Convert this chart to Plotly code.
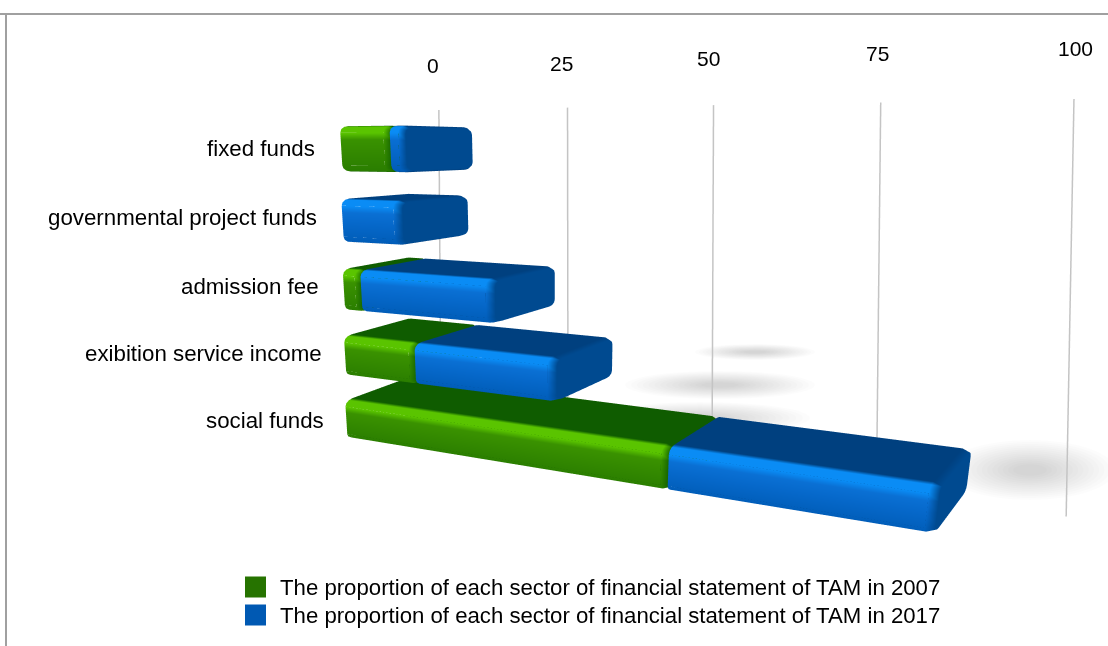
import numpy as np
import plotly.graph_objects as go

categories = ['fixed funds', 'governmental project funds', 'admission fee',
              'exibition service income', 'social funds']
values_2007 = [8, 0, 3, 12, 50]
values_2017 = [2, 9.5, 21, 21.5, 32]
tick_values = [0, 25, 50, 75, 100]
tick_labels = ['0', '25', '50', '75', '100']
series_names = ['The proportion of each sector of financial statement of TAM in 2007',
                'The proportion of each sector of financial statement of TAM in 2017']

FONT = 'Liberation Sans'
DEPTH = 15.4    # bar depth in x-axis units
WALL = 30.9     # where the gridlines stand
BAR_H = 0.62
W, H = 1108, 646

GREEN = dict(front='#3a9200', bright='#5ac400', low='#2a7d00', top='#0f5c00', cap='#0f5c00')
BLUE = dict(front='#0a70d4', bright='#0a8cf5', low='#005cb8', top='#00407f', cap='#004a90')


def hex2rgb(c):
    return np.array([int(c[i:i + 2], 16) for i in (1, 3, 5)], dtype=float)


def section(zc):
    # rounded rectangle in (y, z), walking round from the front bottom corner
    r_y, r_z = 1.5, 0.09
    y0, y1 = 0, DEPTH
    z0, z1 = zc - BAR_H / 2, zc + BAR_H / 2
    pts = []
    corners = [(y0 + r_y, z0 + r_z, 180), (y1 - r_y, z0 + r_z, 270),
               (y1 - r_y, z1 - r_z, 0), (y0 + r_y, z1 - r_z, 90)]
    for cy, cz, a0 in corners:
        for a in np.radians(np.linspace(a0, a0 + 90, 4)):
            pts.append((cy + r_y * np.cos(a), cz + r_z * np.sin(a)))
    # extra rows on the front face so the bright band shows
    for t in (0.84, 0.7, 0.45):
        pts.append((y0, z0 + BAR_H * t))
    return pts


def shade(pal, y, z, zc):
    t = (z - (zc - BAR_H / 2)) / BAR_H
    if y <= 0.8:
        if t < 0.7:
            return hex2rgb(pal['low']) + (hex2rgb(pal['front']) - hex2rgb(pal['low'])) * t / 0.7
        if t < 0.84:
            return hex2rgb(pal['front']) + (hex2rgb(pal['bright']) - hex2rgb(pal['front'])) * (t - 0.7) / 0.14
        return hex2rgb(pal['bright'])
    return hex2rgb(pal['top'])


def bar_mesh(x0, x1, zc, pal, name):
    sec = section(zc)
    n = len(sec)
    bevel = min(1.0, (x1 - x0) / 3)
    X, Y, Z, col, I, J, K = [], [], [], [], [], [], []
    for rx in [x0, x1 - bevel]:
        for y, z in sec:
            X.append(rx); Y.append(y); Z.append(z)
            col.append(shade(pal, y, z, zc))
    for a in range(n):
        b = (a + 1) % n
        I += [a, a]; J += [b, b + n]; K += [b + n, a + n]
    # bevel ring and flat end cap
    base = len(X)
    cap = hex2rgb(pal['cap'])
    for y, z in sec:
        X.append(x1 - bevel); Y.append(y); Z.append(z); col.append(shade(pal, y, z, zc))
    for y, z in sec:
        X.append(x1); Y.append(y + (DEPTH / 2 - y) * 0.08); Z.append(z + (zc - z) * 0.08); col.append(cap)
    for a in range(n):
        b = (a + 1) % n
        I += [base + a, base + a]; J += [base + b, base + b + n]; K += [base + b + n, base + a + n]
    center = len(X)
    X.append(x1); Y.append(DEPTH / 2); Z.append(zc); col.append(cap)
    for a in range(n):
        b = (a + 1) % n
        I.append(center); J.append(base + n + a); K.append(base + n + b)
    # the original's perspective is not a true camera: rows drift right going up,
    # lower rows droop to the right, and depth runs further right than plotly's camera gives
    X = np.array(X)
    Y = np.array(Y)
    Z = np.array(Z) - 0.0003 * (4 - zc) * X
    X = X + zc * 0.5 + (Y / DEPTH) * (3 + 0.03 * X)
    colors = ['rgb(%d,%d,%d)' % tuple(c) for c in col]
    return go.Mesh3d(x=X, y=Y, z=Z, i=I, j=J, k=K, vertexcolor=colors, name=name,
                     flatshading=True, showscale=False, hoverinfo='name',
                     lighting=dict(ambient=1, diffuse=0, specular=0, roughness=1, fresnel=0))


fig = go.Figure()

# gridlines on the back wall, leaned a bit to undo the camera pitch
z_lo, z_hi = -1.227, 4.645
for t in tick_values:
    lean = (t - 21) * 0.042
    fig.add_trace(go.Scatter3d(x=[t + lean, t - lean], y=[WALL, WALL], z=[z_lo, z_hi], mode='lines',
                               line=dict(color='#c4c4c4', width=3),
                               showlegend=False, hoverinfo='skip'))

# stacked bars, first category on top
for i, cat in enumerate(categories):
    zc = len(categories) - 1 - i
    if values_2007[i] > 0:
        fig.add_trace(bar_mesh(0, values_2007[i], zc, GREEN, series_names[0]))
    fig.add_trace(bar_mesh(values_2007[i], values_2007[i] + values_2017[i], zc, BLUE, series_names[1]))

hidden = dict(visible=False, showgrid=False, zeroline=False, showticklabels=False,
              showbackground=False, title='')
fig.update_layout(
    width=W, height=H,
    margin=dict(l=0, r=0, t=0, b=0),
    paper_bgcolor='white',
    showlegend=False,
    scene=dict(
        domain=dict(x=[0, 1], y=[0, 1]),
        bgcolor='rgba(0,0,0,0)',
        xaxis=dict(range=[-5, 110], **hidden),
        yaxis=dict(range=[0, WALL], **hidden),
        zaxis=dict(range=[z_lo, z_hi], **hidden),
        aspectmode='manual',
        aspectratio=dict(x=1.15, y=WALL / 100, z=0.596),
        camera=dict(eye=dict(x=0.168, y=-1.104, z=0.239), center=dict(x=-0.243, y=0, z=-0.031),
                    projection=dict(type='perspective')),
    ),
)


def px(x):
    return x / W


def py(y):
    return 1 - y / H


# frame of the screenshot
fig.add_shape(type='line', xref='paper', yref='paper', x0=0, x1=1, y0=py(14), y1=py(14),
              line=dict(color='#a0a0a0', width=2))
fig.add_shape(type='line', xref='paper', yref='paper', x0=px(6), x1=px(6), y0=py(14), y1=0,
              line=dict(color='#a0a0a0', width=2))

# soft shadows behind the bars
shadows = [(1030, 470, 85, 30), (755, 352, 60, 8), (720, 385, 95, 14), (700, 418, 110, 16)]
for cx, cy, rx, ry in shadows:
    for k in np.linspace(1, 0.2, 14):
        fig.add_shape(type='circle', xref='paper', yref='paper', layer='below',
                      x0=px(cx - rx * k), x1=px(cx + rx * k), y0=py(cy + ry * k), y1=py(cy - ry * k),
                      fillcolor='rgba(0,0,0,0.011)', line=dict(width=0))

# tick labels along the top, category labels on the left
tick_pos = [(433, 66), (561, 63), (708, 59), (877, 54), (1075, 49)]
for lab, (x, y) in zip(tick_labels, tick_pos):
    fig.add_annotation(text=lab, xref='paper', yref='paper', x=px(x), y=py(y), showarrow=False,
                       xanchor='center', yanchor='middle',
                       font=dict(family=FONT, size=21, color='black'))
cat_pos = [(317, 148), (319, 217), (321, 286), (324, 353), (326, 420)]
for cat, (x, y) in zip(categories, cat_pos):
    fig.add_annotation(text=cat, xref='paper', yref='paper', x=px(x), y=py(y), xanchor='right',
                       yanchor='middle', showarrow=False,
                       font=dict(family=FONT, size=22.3, color='black'))

# legend
for name, color, y in zip(series_names, ['#267300', '#0059b3'], [587, 615]):
    fig.add_shape(type='rect', xref='paper', yref='paper', x0=px(245), x1=px(266),
                  y0=py(y - 10.5), y1=py(y + 10.5), fillcolor=color, line=dict(width=0))
    fig.add_annotation(text=name, xref='paper', yref='paper', x=px(278), y=py(y), xanchor='left',
                       yanchor='middle', showarrow=False,
                       font=dict(family=FONT, size=22.2, color='black'))

# the page margin would push the whole figure 8px off
fig.write_html("out.html", config={'displayModeBar': False},
               post_script="document.body.style.margin='0';")
